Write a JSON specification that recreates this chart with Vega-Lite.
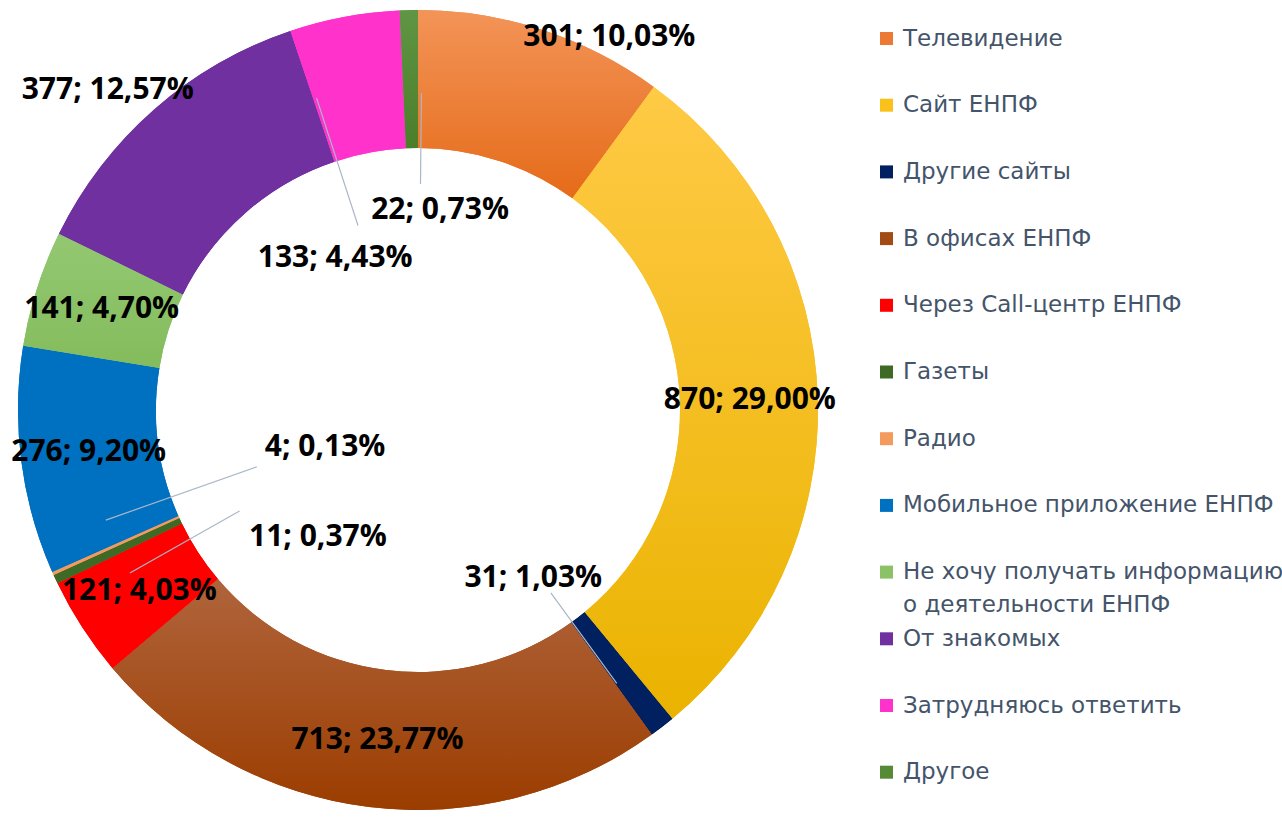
{
  "$schema": "https://vega.github.io/schema/vega-lite/v6.json",
  "width": 836,
  "height": 820,
  "padding": 0,
  "background": "white",
  "config": {"view": {"stroke": null}, "style": {"guide-label": {"lineHeight": 33}}},
  "data": {
    "values": [
      {"i": 1, "cat": "Телевидение", "value": 301, "label": "301; 10,03%"},
      {"i": 2, "cat": "Сайт ЕНПФ", "value": 870, "label": "870; 29,00%"},
      {"i": 3, "cat": "Другие сайты", "value": 31, "label": "31; 1,03%"},
      {"i": 4, "cat": "В офисах ЕНПФ", "value": 713, "label": "713; 23,77%"},
      {"i": 5, "cat": "Через Call-центр ЕНПФ", "value": 121, "label": "121; 4,03%"},
      {"i": 6, "cat": "Газеты", "value": 11, "label": "11; 0,37%"},
      {"i": 7, "cat": "Радио", "value": 4, "label": "4; 0,13%"},
      {"i": 8, "cat": "Мобильное приложение ЕНПФ", "value": 276, "label": "276; 9,20%"},
      {"i": 9, "cat": "Не хочу получать информацию о деятельности ЕНПФ", "value": 141, "label": "141; 4,70%"},
      {"i": 10, "cat": "От знакомых", "value": 377, "label": "377; 12,57%"},
      {"i": 11, "cat": "Затрудняюсь ответить", "value": 133, "label": "133; 4,43%"},
      {"i": 12, "cat": "Другое", "value": 22, "label": "22; 0,73%"}
    ]
  },
  "encoding": {
    "theta": {"field": "value", "type": "quantitative", "stack": true},
    "order": {"field": "i", "type": "quantitative"}
  },
  "layer": [
    {
      "mark": {"type": "arc", "innerRadius": 262, "outerRadius": 400, "strokeWidth": 0},
      "encoding": {
        "color": {
          "field": "cat",
          "type": "nominal",
          "scale": {
            "domain": ["Телевидение", "Сайт ЕНПФ", "Другие сайты", "В офисах ЕНПФ", "Через Call-центр ЕНПФ", "Газеты", "Радио", "Мобильное приложение ЕНПФ", "Не хочу получать информацию о деятельности ЕНПФ", "От знакомых", "Затрудняюсь ответить", "Другое"],
            "range": ["#EC7A35", "#FAC11A", "#002060", "#A34B14", "#FF0000", "#3E6A25", "#F39A5E", "#0070C0", "#8AC265", "#7030A0", "#FF33CC", "#558A37"]
          },
          "legend": {
            "orient": "none",
            "legendX": 875,
            "legendY": 27,
            "title": null,
            "padding": 0,
            "symbolType": "square",
            "symbolSize": 169,
            "symbolStrokeWidth": 0,
            "labelFont": "DejaVu Sans",
            "labelFontSize": 23,
            "labelColor": "#44546A",
            "labelOffset": 5,
            "labelLimit": 395,
            "rowPadding": 9.7,
            "labelExpr": "datum.label == 'Не хочу получать информацию о деятельности ЕНПФ' ? ['Не хочу получать информацию', 'о деятельности ЕНПФ'] : [datum.label, '']"
          }
        }
      }
    },
    {
      "mark": {"type": "arc", "innerRadius": 262, "outerRadius": 400, "strokeWidth": 0},
      "encoding": {
        "fill": {
          "condition": [
            {"test": "datum.cat === 'Телевидение'", "value": {"gradient": "linear", "x1": 0, "y1": 0, "x2": 0, "y2": 1, "stops": [{"offset": 0, "color": "#F39458"}, {"offset": 1, "color": "#E56B19"}]}},
            {"test": "datum.cat === 'Сайт ЕНПФ'", "value": {"gradient": "linear", "x1": 0, "y1": 0, "x2": 0, "y2": 1, "stops": [{"offset": 0, "color": "#FFCA45"}, {"offset": 1, "color": "#EAB300"}]}},
            {"test": "datum.cat === 'В офисах ЕНПФ'", "value": {"gradient": "linear", "x1": 0, "y1": 0, "x2": 0, "y2": 1, "stops": [{"offset": 0, "color": "#B0643C"}, {"offset": 1, "color": "#9B3D00"}]}},
            {"test": "datum.cat === 'Не хочу получать информацию о деятельности ЕНПФ'", "value": {"gradient": "linear", "x1": 0, "y1": 0, "x2": 0, "y2": 1, "stops": [{"offset": 0, "color": "#93C872"}, {"offset": 1, "color": "#84BC5C"}]}},
            {"test": "datum.cat === 'Другое'", "value": {"gradient": "linear", "x1": 0, "y1": 0, "x2": 0, "y2": 1, "stops": [{"offset": 0, "color": "#5F9544"}, {"offset": 1, "color": "#4B7E2A"}]}},
            {"test": "datum.cat === 'Другие сайты'", "value": "#002060"},
            {"test": "datum.cat === 'Через Call-центр ЕНПФ'", "value": "#FF0000"},
            {"test": "datum.cat === 'Газеты'", "value": "#3E6A25"},
            {"test": "datum.cat === 'Радио'", "value": "#F39A5E"},
            {"test": "datum.cat === 'Мобильное приложение ЕНПФ'", "value": "#0070C0"},
            {"test": "datum.cat === 'От знакомых'", "value": "#7030A0"}
          ],
          "value": "#FF33CC"
        }
      }
    },
    {
      "mark": {"type": "arc", "innerRadius": 226, "outerRadius": 317, "padAngle": 0.6, "thetaOffset": 0.034, "fillOpacity": 0, "stroke": "#A9B7C9", "strokeWidth": 1.2, "clip": true},
      "encoding": {"strokeOpacity": {"condition": {"test": "datum.cat === 'Другое'", "value": 1}, "value": 0}}
    },
    {
      "mark": {"type": "arc", "innerRadius": 194, "outerRadius": 328, "padAngle": 0.6, "thetaOffset": -0.129, "fillOpacity": 0, "stroke": "#A9B7C9", "strokeWidth": 1.2, "clip": true},
      "encoding": {"strokeOpacity": {"condition": {"test": "datum.cat === 'Затрудняюсь ответить'", "value": 1}, "value": 0}}
    },
    {
      "mark": {"type": "arc", "innerRadius": 226, "outerRadius": 338, "padAngle": 0.6, "thetaOffset": 0.028, "fillOpacity": 0, "stroke": "#A9B7C9", "strokeWidth": 1.2, "clip": true},
      "encoding": {"strokeOpacity": {"condition": {"test": "datum.cat === 'Другие сайты'", "value": 1}, "value": 0}}
    },
    {
      "mark": {"type": "arc", "innerRadius": 171, "outerRadius": 331, "padAngle": 0.6, "thetaOffset": 0.082, "fillOpacity": 0, "stroke": "#A9B7C9", "strokeWidth": 1.2, "clip": true},
      "encoding": {"strokeOpacity": {"condition": {"test": "datum.cat === 'Радио'", "value": 1}, "value": 0}}
    },
    {
      "mark": {"type": "arc", "innerRadius": 205, "outerRadius": 331, "padAngle": 0.6, "thetaOffset": -0.078, "fillOpacity": 0, "stroke": "#A9B7C9", "strokeWidth": 1.2, "clip": true},
      "encoding": {"strokeOpacity": {"condition": {"test": "datum.cat === 'Газеты'", "value": 1}, "value": 0}}
    },
    {
      "mark": {"type": "text", "radius": 332, "font": "Open Sans", "fontSize": 30, "fontWeight": "bold", "color": "#000000", "align": "center", "baseline": "middle", "clip": true},
      "encoding": {"text": {"condition": {"test": "indexof(['Сайт ЕНПФ', 'В офисах ЕНПФ', 'Через Call-центр ЕНПФ', 'Мобильное приложение ЕНПФ', 'Не хочу получать информацию о деятельности ЕНПФ'], datum.cat) >= 0", "field": "label", "type": "nominal"}, "value": ""}}
    },
    {
      "mark": {"type": "text", "radius": 419, "thetaOffset": 0.159, "font": "Open Sans", "fontSize": 30, "fontWeight": "bold", "color": "#000000", "align": "center", "baseline": "middle", "clip": true},
      "encoding": {"text": {"condition": {"test": "datum.cat === 'Телевидение'", "field": "label", "type": "nominal"}, "value": ""}}
    },
    {
      "mark": {"type": "text", "radius": 446, "thetaOffset": -0.05, "font": "Open Sans", "fontSize": 30, "fontWeight": "bold", "color": "#000000", "align": "center", "baseline": "middle", "clip": true},
      "encoding": {"text": {"condition": {"test": "datum.cat === 'От знакомых'", "field": "label", "type": "nominal"}, "value": ""}}
    },
    {
      "mark": {"type": "text", "radius": 204, "thetaOffset": 0.056, "font": "Open Sans", "fontSize": 30, "fontWeight": "bold", "color": "#000000", "align": "center", "baseline": "middle", "clip": true},
      "encoding": {"text": {"condition": {"test": "datum.cat === 'Другие сайты'", "field": "label", "type": "nominal"}, "value": ""}}
    },
    {
      "mark": {"type": "text", "radius": 162, "thetaOffset": -0.468, "font": "Open Sans", "fontSize": 30, "fontWeight": "bold", "color": "#000000", "align": "center", "baseline": "middle", "clip": true},
      "encoding": {"text": {"condition": {"test": "datum.cat === 'Газеты'", "field": "label", "type": "nominal"}, "value": ""}}
    },
    {
      "mark": {"type": "text", "radius": 100, "thetaOffset": 0.042, "font": "Open Sans", "fontSize": 30, "fontWeight": "bold", "color": "#000000", "align": "center", "baseline": "middle", "clip": true},
      "encoding": {"text": {"condition": {"test": "datum.cat === 'Радио'", "field": "label", "type": "nominal"}, "value": ""}}
    },
    {
      "mark": {"type": "text", "radius": 173, "thetaOffset": -0.314, "font": "Open Sans", "fontSize": 30, "fontWeight": "bold", "color": "#000000", "align": "center", "baseline": "middle", "clip": true},
      "encoding": {"text": {"condition": {"test": "datum.cat === 'Затрудняюсь ответить'", "field": "label", "type": "nominal"}, "value": ""}}
    },
    {
      "mark": {"type": "text", "radius": 201, "thetaOffset": 0.133, "font": "Open Sans", "fontSize": 30, "fontWeight": "bold", "color": "#000000", "align": "center", "baseline": "middle", "clip": true},
      "encoding": {"text": {"condition": {"test": "datum.cat === 'Другое'", "field": "label", "type": "nominal"}, "value": ""}}
    }
  ]
}
